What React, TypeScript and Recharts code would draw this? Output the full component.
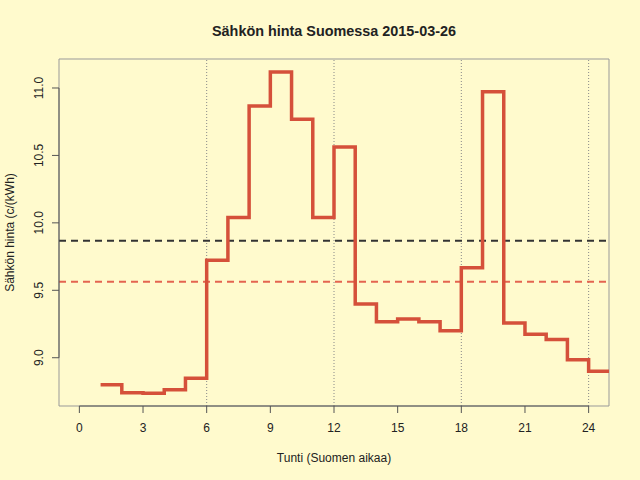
import React from 'react';
import { ComposedChart, Line, XAxis, YAxis, ReferenceLine, ReferenceArea } from 'recharts';

const hours = [1, 2, 3, 4, 5, 6, 7, 8, 9, 10, 11, 12, 13, 14, 15, 16, 17, 18, 19, 20, 21, 22, 23, 24];
const prices = [
  8.80, 8.74, 8.736, 8.763, 8.847, 9.722, 10.039, 10.867, 11.119, 10.769, 10.039, 10.563,
  9.398, 9.267, 9.287, 9.267, 9.2, 9.668, 10.973, 9.257, 9.174, 9.136, 8.985, 8.899,
];
const xTicks = [0, 3, 6, 9, 12, 15, 18, 21, 24];
const yTicks = [9.0, 9.5, 10.0, 10.5, 11.0];
const sixHourMarks = [6, 12, 18, 24];
const meanLineBlack = 9.868;
const meanLineRed = 9.564;
const xDomain: [number, number] = [-0.96, 24.96];
const yDomain: [number, number] = [8.642, 11.215];

const titleText = 'Sähkön hinta Suomessa 2015-03-26';
const xLabel = 'Tunti (Suomen aikaa)';
const yLabel = 'Sähkön hinta (c/(kWh)';

const tableData = [
  ...hours.map((h, i) => ({ hour: h, price: prices[i] })),
  { hour: hours[hours.length - 1] + 1, price: prices[prices.length - 1] },
];

const FONT = '"Liberation Sans", Arial, Helvetica, sans-serif';
const BG = '#FFFACD';
const TEXT = '#222';
const AXIS = '#555';

const XTick = (props: any) => {
  const { x, y, payload } = props;
  return (
    <text x={x} y={y + 17} textAnchor="middle" fontSize={12} fontFamily={FONT} fill={TEXT}>
      {String(payload.value)}
    </text>
  );
};

const YTick = (props: any) => {
  const { y, payload } = props;
  const bx = 43.5;
  return (
    <text
      x={bx}
      y={y}
      transform={`rotate(-90 ${bx} ${y})`}
      textAnchor="middle"
      fontSize={12}
      fontFamily={FONT}
      fill={TEXT}
    >
      {Number(payload.value).toFixed(1)}
    </text>
  );
};

export default function App() {
  return (
    <div style={{ position: 'absolute', left: 0, top: 0, width: 640, height: 480, background: BG }}>
      <ComposedChart
        width={640}
        height={480}
        data={tableData}
        margin={{ top: 59, right: 31, bottom: 0, left: 0 }}
      >
        <XAxis
          dataKey="hour"
          type="number"
          domain={xDomain}
          ticks={xTicks}
          allowDataOverflow
          height={74}
          axisLine={false}
          tickLine={{ stroke: AXIS }}
          tickSize={7}
          tick={<XTick />}
          interval={0}
        />
        <YAxis
          type="number"
          domain={yDomain}
          ticks={yTicks}
          allowDataOverflow
          width={59}
          axisLine={false}
          tickLine={{ stroke: AXIS }}
          tickSize={7}
          tick={<YTick />}
          interval={0}
        />
        <ReferenceArea
          x1={xDomain[0]}
          x2={xDomain[1]}
          y1={yDomain[0]}
          y2={yDomain[1]}
          fill="none"
          stroke="#999"
          strokeWidth={1}
          ifOverflow="visible"
        />
        {sixHourMarks.map((h) => (
          <ReferenceLine key={h} x={h} stroke="#888" strokeWidth={1} strokeDasharray="1 2" />
        ))}
        <ReferenceLine y={meanLineBlack} stroke="#333" strokeWidth={2} strokeDasharray="7 5" />
        <ReferenceLine y={meanLineRed} stroke="#E46450" strokeWidth={2} strokeDasharray="7 5" />
        <ReferenceLine
          segment={[{ x: xTicks[0], y: yDomain[0] }, { x: xTicks[xTicks.length - 1], y: yDomain[0] }]}
          stroke={AXIS}
          strokeWidth={1}
          ifOverflow="visible"
        />
        <ReferenceLine
          segment={[{ x: xDomain[0], y: yTicks[0] }, { x: xDomain[0], y: yTicks[yTicks.length - 1] }]}
          stroke={AXIS}
          strokeWidth={1}
          ifOverflow="visible"
        />
        <Line
          type="stepAfter"
          dataKey="price"
          stroke="#D5503A"
          strokeWidth={3.5}
          dot={false}
          activeDot={false}
          isAnimationActive={false}
        />
      </ComposedChart>
      <svg
        width={640}
        height={480}
        style={{ position: 'absolute', left: 0, top: 0, pointerEvents: 'none' }}
      >
        <text x={334} y={36} textAnchor="middle" fontSize={14.4} fontWeight="bold" fontFamily={FONT} fill={TEXT}>
          {titleText}
        </text>
        <text x={334} y={461.5} textAnchor="middle" fontSize={12} fontFamily={FONT} fill={TEXT}>
          {xLabel}
        </text>
        <text
          x={13.5}
          y={232.5}
          transform="rotate(-90 13.5 232.5)"
          textAnchor="middle"
          fontSize={12}
          fontFamily={FONT}
          fill={TEXT}
        >
          {yLabel}
        </text>
      </svg>
    </div>
  );
}
